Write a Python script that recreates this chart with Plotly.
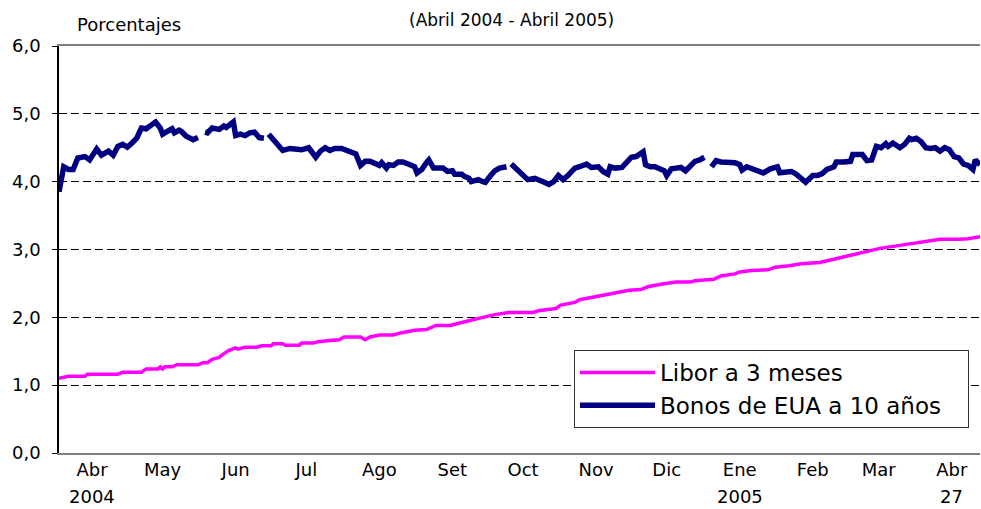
import pandas as pd
import plotly.graph_objects as go

START = pd.Timestamp("2004-04-01")

# Libor a 3 meses: day offset from 1 Apr 2004, value (%)
libor_days = [0, 2, 4, 11, 12, 25, 27, 35, 37, 42,
              43, 44, 45, 48, 50, 59, 61, 63, 65, 68,
              69, 72, 74, 75, 76, 79, 84, 86, 90, 91,
              95, 96, 102, 103, 108, 110, 115, 119, 121, 128,
              130, 132, 136, 142, 145, 149, 151, 156, 160, 166,
              169, 174, 180, 185, 191, 201, 204, 211, 213, 219,
              221, 227, 232, 236, 242, 247, 250, 256, 262, 268,
              270, 278, 281, 287, 289, 294, 301, 304, 310, 315,
              320, 323, 328, 332, 338, 344, 349, 355, 362, 368,
              374, 382, 386, 391]
libor_vals = [1.10, 1.11, 1.13, 1.13, 1.16, 1.16, 1.19, 1.19, 1.24, 1.24,
              1.27, 1.24, 1.27, 1.27, 1.30, 1.30, 1.33, 1.33, 1.38, 1.41,
              1.44, 1.51, 1.53, 1.55, 1.53, 1.56, 1.56, 1.58, 1.58, 1.61,
              1.61, 1.59, 1.59, 1.62, 1.62, 1.64, 1.66, 1.67, 1.71, 1.71,
              1.67, 1.71, 1.74, 1.74, 1.77, 1.80, 1.81, 1.82, 1.88, 1.88,
              1.91, 1.95, 2.00, 2.04, 2.07, 2.07, 2.10, 2.13, 2.18, 2.22,
              2.26, 2.30, 2.34, 2.37, 2.40, 2.41, 2.45, 2.49, 2.52, 2.52,
              2.54, 2.56, 2.61, 2.64, 2.67, 2.69, 2.70, 2.74, 2.76, 2.79,
              2.80, 2.81, 2.85, 2.88, 2.93, 2.98, 3.02, 3.05, 3.09, 3.12,
              3.15, 3.15, 3.16, 3.19]

# Bonos de EUA a 10 años (None = no data / holiday gap)
bond_days = [0, 1, 2, 4, 6, 8, 11, 13, 15, 16,
             18, 21, 23, 25, 27, 29, 31, 33, 35, 37,
             39, 41, 43, 44, 46, 48, 49, 51, 52, 54,
             57, 59, 60, 62, 63, 65, 66, 68, 70, 71,
             74, 75, 77, 79, 81, 83, 85, 87, 88, 89,
             91, 93, 95, 98, 100, 103, 106, 109, 111, 113,
             115, 117, 120, 123, 126, 128, 130, 132, 134, 136,
             137, 139, 140, 142, 144, 146, 149, 151, 152, 154,
             156, 157, 159, 161, 163, 165, 167, 168, 171, 172,
             174, 175, 178, 180, 181, 183, 185, 187, 189, 190,
             191, 192, 195, 197, 199, 202, 204, 206, 208, 210,
             212, 214, 216, 219, 221, 224, 226, 229, 231, 233,
             234, 236, 239, 241, 243, 245, 248, 249, 251, 253,
             255, 257, 258, 260, 262, 264, 266, 268, 270, 272,
             274, 275, 277, 279, 281, 284, 287, 289, 290, 292,
             295, 297, 299, 302, 305, 306, 308, 311, 313, 315,
             317, 320, 322, 324, 326, 329, 330, 333, 336, 337,
             339, 341, 343, 345, 347, 349, 351, 352, 354, 357,
             359, 361, 362, 364, 366, 368, 370, 372, 374, 376,
             378, 380, 382, 384, 386, 388, 389, 391]
bond_vals = [3.85, 4.00, 4.22, 4.18, 4.18, 4.35, 4.37, 4.32, 4.42, 4.48,
             4.39, 4.45, 4.39, 4.52, 4.55, 4.51, 4.57, 4.64, 4.79, 4.78,
             4.83, 4.88, 4.79, 4.70, 4.74, 4.78, 4.72, 4.76, 4.74, 4.67,
             4.62, 4.65, None, 4.73, 4.72, 4.79, 4.78, 4.77, 4.82, 4.80,
             4.88, 4.68, 4.70, 4.68, 4.72, 4.73, 4.65, 4.64, None, 4.70,
             4.62, 4.57, 4.46, 4.49, 4.49, 4.47, 4.50, 4.36, 4.45, 4.50,
             4.46, 4.49, 4.49, 4.45, 4.41, 4.24, 4.30, 4.30, 4.26, 4.24,
             4.28, 4.20, 4.25, 4.24, 4.29, 4.29, 4.25, 4.22, 4.13, 4.18,
             4.28, 4.32, 4.20, 4.21, 4.20, 4.15, 4.16, 4.11, 4.11, 4.08,
             4.05, 4.00, 4.03, 4.00, 3.99, 4.08, 4.16, 4.20, 4.22, 4.22,
             None, 4.26, 4.15, 4.08, 4.03, 4.05, 4.03, 3.99, 3.96, 4.00,
             4.09, 4.03, 4.09, 4.20, 4.22, 4.26, 4.21, 4.22, 4.15, 4.11,
             4.22, 4.20, 4.21, 4.28, 4.36, 4.37, 4.44, 4.25, 4.22, 4.22,
             4.18, 4.16, 4.09, 4.19, 4.20, 4.21, 4.16, 4.22, 4.30, 4.32,
             4.36, None, 4.22, 4.31, 4.29, 4.29, 4.28, 4.25, 4.17, 4.22,
             4.19, 4.16, 4.13, 4.19, 4.22, 4.13, 4.14, 4.15, 4.11, 4.04,
             3.99, 4.09, 4.09, 4.12, 4.18, 4.22, 4.29, 4.29, 4.30, 4.40,
             4.40, 4.40, 4.31, 4.32, 4.52, 4.50, 4.56, 4.52, 4.57, 4.50,
             4.55, 4.64, 4.62, 4.64, 4.59, 4.50, 4.49, 4.50, 4.45, 4.50,
             4.47, 4.37, 4.35, 4.26, 4.24, 4.18, 4.32, 4.25]

month_ticks = ["2004-04-15", "2004-05-15", "2004-06-15", "2004-07-15", "2004-08-15",
               "2004-09-15", "2004-10-15", "2004-11-15", "2004-12-15", "2005-01-15",
               "2005-02-15", "2005-03-15", "2005-04-15"]
month_labels = ["Abr", "May", "Jun", "Jul", "Ago", "Set", "Oct", "Nov", "Dic",
                "Ene", "Feb", "Mar", "Abr"]
second_line_pos = ["2004-04-15", "2005-01-15", "2005-04-15"]
second_line_text = ["2004", "2005", "27"]

y_ticks = [0, 1, 2, 3, 4, 5, 6]

libor_x = START + pd.to_timedelta(libor_days, unit="D")
bond_x = START + pd.to_timedelta(bond_days, unit="D")

FONT = "DejaVu Sans"
NBSP = "\u00a0"

fig = go.Figure()
fig.add_trace(go.Scatter(x=libor_x, y=libor_vals, mode="lines",
                         name="Libor a 3 meses",
                         line=dict(color="#FF00FF", width=3.5)))
fig.add_trace(go.Scatter(x=bond_x, y=bond_vals, mode="lines",
                         name="Bonos de EUA a 10 años" + NBSP * 3, connectgaps=False,
                         line=dict(color="#000080", width=5.5)))

annotations = [
    dict(text="Porcentajes", xref="paper", yref="paper",
         x=(75 - 59) / 921, y=(453 - 24) / 407, xanchor="left", yanchor="middle",
         showarrow=False, font=dict(family=FONT, size=18, color="black")),
    dict(text="(Abril 2004 - Abril 2005)", xref="paper", yref="paper",
         x=(511 - 59) / 921, y=(453 - 20) / 407, xanchor="center", yanchor="middle",
         showarrow=False, font=dict(family=FONT, size=17, color="black")),
]
for pos, txt in zip(second_line_pos, second_line_text):
    annotations.append(dict(text=txt, xref="x", yref="paper", x=pos,
                            y=(453 - 496) / 407, xanchor="center", yanchor="middle",
                            showarrow=False,
                            font=dict(family=FONT, size=18, color="black")))

fig.update_layout(
    width=981, height=509,
    margin=dict(l=59, r=1, t=46, b=56),
    paper_bgcolor="white", plot_bgcolor="white",
    separators=",.",
    showlegend=True,
    legend=dict(x=(574 - 59) / 921, y=(453 - 350) / 407, xanchor="left", yanchor="top",
                bgcolor="white", bordercolor="#333333", borderwidth=1,
                font=dict(family=FONT, size=23, color="black"),
                itemwidth=75, tracegroupgap=0),
    annotations=annotations,
    xaxis=dict(type="date", range=["2004-04-01", "2005-04-27"],
               tickmode="array", tickvals=month_ticks, ticktext=month_labels,
               ticks="", showgrid=False, zeroline=False, automargin=False,
               showline=True, linecolor="#808080", linewidth=1.5, mirror=True,
               tickfont=dict(family=FONT, size=18, color="black")),
    yaxis=dict(range=[0, 6], tickmode="array", tickvals=y_ticks, tickformat=".1f",
               ticks="outside", ticklen=5, tickcolor="black", automargin=False,
               showgrid=True, gridcolor="black", gridwidth=1, griddash="8px,4px",
               zeroline=False, showline=True, linecolor="black", linewidth=1.5,
               ticklabelstandoff=8,
               tickfont=dict(family=FONT, size=18, color="black")),
)

fig.write_html("out.html", config={"displayModeBar": False},
               post_script="document.body.style.margin='0';document.body.style.padding='0';")
